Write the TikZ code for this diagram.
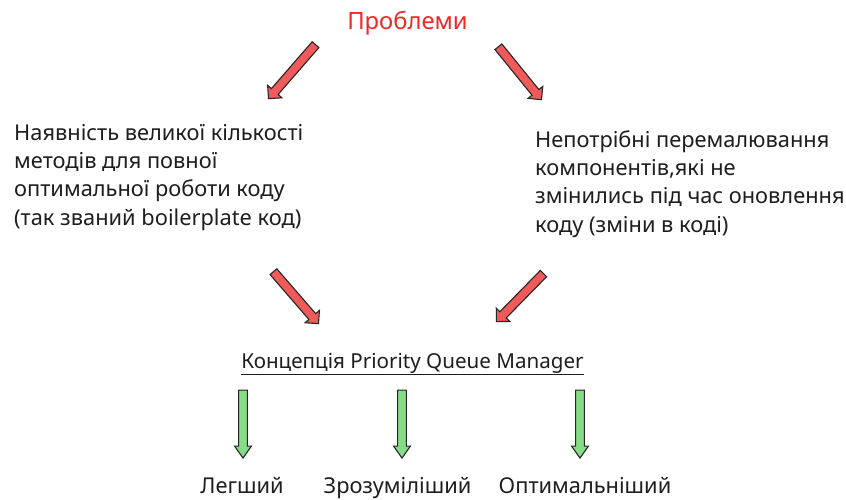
\documentclass[tikz,border=0pt]{standalone}
\usepackage{fontspec}
\setmainfont{Noto Sans}
\usetikzlibrary{shapes.arrows}
\definecolor{txt}{HTML}{1E1E1E}
\definecolor{titlered}{HTML}{F02828}
\definecolor{redfill}{HTML}{F05A5A}
\definecolor{greenfill}{HTML}{86DC86}
\tikzset{
  body/.style={inner sep=0pt, text=txt, font=\fontsize{21.8}{28.3}\selectfont, align=left},
  word/.style={inner sep=0pt, anchor=base, text=txt, font=\fontsize{21.8}{26}\selectfont},
  redarrow/.style={single arrow, draw=black!85, line width=1.1pt, fill=redfill,
     inner xsep=0pt, inner ysep=3.9pt, single arrow head extend=5pt, single arrow tip angle=90},
  greenarrow/.style={single arrow, draw=black!85, line width=1.1pt, fill=greenfill,
     inner xsep=0pt, inner ysep=3.8pt, single arrow head extend=4pt, single arrow tip angle=70,
     minimum height=68pt, rotate=-90},
}
\begin{document}
\begin{tikzpicture}[x=1pt,y=-1pt]
\useasboundingbox[fill=white] (0,0) rectangle (846,500);
\node[inner sep=0pt, anchor=base, text=titlered, font=\fontsize{23.8}{28}\selectfont] (title) at (407.5,30) {Проблеми};

\node[body, anchor=base west] (left) at (14,225) {Наявність великої кількості\\методів для повної\\оптимальної роботи коду\\(так званий boilerplate код)};
\node[body, anchor=base west] (right) at (535,232) {Непотрібні перемалювання\\компонентів,які не\\змінились під час оновлення\\коду (зміни в коді)};

\node[inner sep=0pt, anchor=base, text=txt, font=\fontsize{20.6}{24}\selectfont] (pqm) at (412.5,368) {\underline{Концепція Priority Queue Manager}};

\node[redarrow, minimum height=71.6pt, rotate=229] (r1) at (293.5,70) {};
\node[redarrow, minimum height=68.2pt, rotate=-50.9] (r2) at (518.5,71.5) {};
\node[redarrow, minimum height=68.8pt, rotate=-49.1] (r3) at (294.5,296) {};
\node[redarrow, minimum height=67.2pt, rotate=225.6] (r4) at (521.5,296) {};

\node[greenarrow] (g1) at (243,421) {};
\node[greenarrow] (g2) at (402,421) {};
\node[greenarrow] (g3) at (580,421) {};

\node[word] (w1) at (242,493) {Легший};
\node[word] (w2) at (397.5,493) {Зрозуміліший};
\node[word] (w3) at (585,493) {Оптимальніший};
\end{tikzpicture}
\end{document}
